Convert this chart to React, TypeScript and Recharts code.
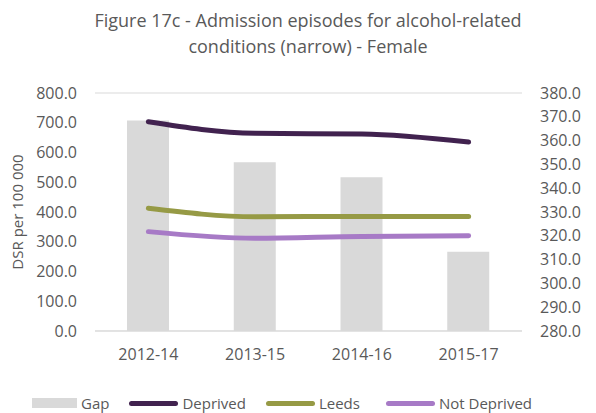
import React from 'react';
import {
  ComposedChart,
  Bar,
  Line,
  XAxis,
  YAxis,
  CartesianGrid,
} from 'recharts';

const periods = ['2012-14', '2013-15', '2014-16', '2015-17'];
const gap = [368.4, 350.9, 344.6, 313.3];
const deprived = [703.5, 664.5, 662.0, 635.0];
const leeds = [412.4, 384.0, 385.0, 385.0];
const notDeprived = [334.0, 311.5, 318.0, 320.0];

const leftTicks = [0, 100, 200, 300, 400, 500, 600, 700, 800];
const rightTicks = [280, 290, 300, 310, 320, 330, 340, 350, 360, 370, 380];

const data = periods.map((p, i) => ({
  period: p,
  gap: gap[i],
  deprived: deprived[i],
  leeds: leeds[i],
  notDeprived: notDeprived[i],
}));

const FONT = '"Open Sans", sans-serif';
const GREY = '#595959';

const legendItems = [
  { name: 'Gap', color: '#d9d9d9', type: 'bar', gap: 20 },
  { name: 'Deprived', color: '#41224f', type: 'line', gap: 20 },
  { name: 'Leeds', color: '#969a45', type: 'line', gap: 26 },
  { name: 'Not Deprived', color: '#a77ac6', type: 'line', gap: 0 },
];

export default function App() {
  return (
    <div style={{ position: 'relative', width: 596, height: 413, fontFamily: FONT }}>
      <style>{'body{margin:0}'}</style>
      <div
        style={{
          position: 'absolute',
          top: 7,
          left: 10,
          width: 596,
          textAlign: 'center',
          fontSize: 18,
          lineHeight: '26px',
          color: GREY,
        }}
      >
        Figure 17c - Admission episodes for alcohol-related
        <br />
        conditions (narrow) - Female
      </div>
      <div
        style={{
          position: 'absolute',
          left: 17,
          top: 212,
          transform: 'translate(-50%, -50%) rotate(-90deg)',
          whiteSpace: 'nowrap',
          fontSize: 15,
          color: GREY,
        }}
      >
        DSR per 100 000
      </div>
      <ComposedChart
        width={596}
        height={413}
        data={data}
        margin={{ top: 93, right: 0, bottom: 52, left: 0 }}
        barCategoryGap="61%"
      >
        <CartesianGrid vertical={false} stroke="#d9d9d9" strokeWidth={1} />
        <XAxis
          dataKey="period"
          axisLine={{ stroke: '#d9d9d9' }}
          tickLine={false}
          tickMargin={12}
          height={30}
          tick={{ fill: GREY, fontSize: 16, fontFamily: FONT }}
        />
        <YAxis
          yAxisId="left"
          orientation="left"
          width={95}
          domain={[0, 800]}
          ticks={leftTicks}
          interval={0}
          axisLine={false}
          tickLine={false}
          tickMargin={12}
          tickFormatter={(v: number) => v.toFixed(1)}
          tick={{ fill: GREY, fontSize: 16, fontFamily: FONT }}
        />
        <YAxis
          yAxisId="right"
          orientation="right"
          width={74}
          domain={[280, 380]}
          ticks={rightTicks}
          interval={0}
          axisLine={false}
          tickLine={false}
          tickMargin={12}
          tickFormatter={(v: number) => v.toFixed(1)}
          tick={{ fill: GREY, fontSize: 16, fontFamily: FONT }}
        />
        <Bar
          yAxisId="right"
          dataKey="gap"
          name="Gap"
          fill="#d9d9d9"
          barSize={42}
          isAnimationActive={false}
        />
        <Line
          yAxisId="left"
          type="monotone"
          dataKey="deprived"
          name="Deprived"
          stroke="#41224f"
          strokeWidth={5}
          strokeLinecap="round"
          dot={false}
          activeDot={false}
          isAnimationActive={false}
        />
        <Line
          yAxisId="left"
          type="monotone"
          dataKey="leeds"
          name="Leeds"
          stroke="#969a45"
          strokeWidth={5}
          strokeLinecap="round"
          dot={false}
          activeDot={false}
          isAnimationActive={false}
        />
        <Line
          yAxisId="left"
          type="monotone"
          dataKey="notDeprived"
          name="Not Deprived"
          stroke="#a77ac6"
          strokeWidth={5}
          strokeLinecap="round"
          dot={false}
          activeDot={false}
          isAnimationActive={false}
        />
      </ComposedChart>
      <div
        style={{
          position: 'absolute',
          top: 393,
          left: 32,
          display: 'flex',
          alignItems: 'center',
          fontSize: 15,
          color: GREY,
          whiteSpace: 'nowrap',
        }}
      >
        {legendItems.map((item) => (
          <div
            key={item.name}
            style={{ display: 'flex', alignItems: 'center', marginRight: item.gap }}
          >
            <span
              style={{
                display: 'inline-block',
                width: item.type === 'bar' ? 45 : 49,
                height: item.type === 'bar' ? 10 : 5,
                borderRadius: item.type === 'bar' ? 0 : 3,
                background: item.color,
                marginRight: 4,
              }}
            />
            {item.name}
          </div>
        ))}
      </div>
    </div>
  );
}
